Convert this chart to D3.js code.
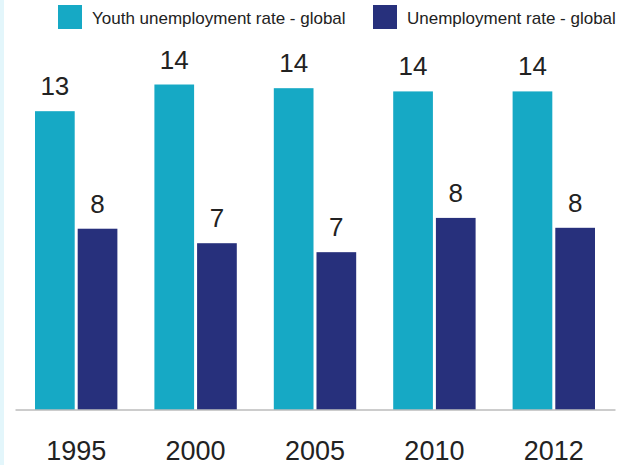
<!DOCTYPE html>
<html>
<head>
<meta charset="utf-8">
<script src="https://cdn.jsdelivr.net/npm/d3@7"></script>
<style>
  html, body { margin: 0; padding: 0; background: #fff; }
  svg { display: block; }
  text { font-family: "Liberation Sans", Arial, sans-serif; }
</style>
</head>
<body>
<div id="chart"></div>
<script>
const years = ["1995", "2000", "2005", "2010", "2012"];
const seriesNames = ["Youth unemployment rate - global", "Unemployment rate - global"];
const youthRate = [12.97, 14.13, 13.97, 13.83, 13.83];
const totalRate = [7.86, 7.23, 6.84, 8.33, 7.9];
const seriesColors = ["#16a9c5", "#27307c"];

const width = 623;
const height = 465;
const baseY = 409.5;

const svg = d3.select("div#chart")
  .append("svg")
  .attr("width", width)
  .attr("height", height);

// faint tinted left edge seen in the picture
svg.append("rect")
  .attr("x", 0).attr("y", 0)
  .attr("width", 4).attr("height", height)
  .attr("fill", "#e3f6fb");

const x0 = d3.scaleBand()
  .domain(years)
  .range([15, 615])
  .paddingInner(0.31)
  .paddingOuter(0.1675);

const x1 = d3.scaleBand()
  .domain(seriesNames)
  .range([0, x0.bandwidth()])
  .paddingInner(0.07);

const y = d3.scaleLinear()
  .domain([0, 15])
  .range([baseY, baseY - 345]);

const rows = years.map((yr, i) => ({
  year: yr,
  values: [
    { name: seriesNames[0], value: youthRate[i], color: seriesColors[0] },
    { name: seriesNames[1], value: totalRate[i], color: seriesColors[1] }
  ]
}));

const groups = svg.append("g")
  .selectAll("g.group")
  .data(rows)
  .enter()
  .append("g")
  .attr("class", "group")
  .attr("transform", d => `translate(${x0(d.year)},0)`);

groups.selectAll("rect")
  .data(d => d.values)
  .enter()
  .append("rect")
  .attr("x", d => x1(d.name))
  .attr("y", d => y(d.value))
  .attr("width", x1.bandwidth())
  .attr("height", d => baseY - y(d.value))
  .attr("fill", d => d.color);

groups.selectAll("text.value")
  .data(d => d.values)
  .enter()
  .append("text")
  .attr("class", "value")
  .attr("x", d => x1(d.name) + x1.bandwidth() / 2)
  .attr("y", d => y(d.value) - 16)
  .attr("text-anchor", "middle")
  .attr("font-size", "26px")
  .attr("fill", "#222")
  .text(d => Math.round(d.value));

const axis = svg.append("g")
  .attr("transform", `translate(0,${baseY})`)
  .call(d3.axisBottom(x0).tickSize(0).tickSizeOuter(0).tickPadding(31));

axis.select(".domain").attr("stroke", "#9a9a9a").attr("stroke-width", 1);
axis.selectAll("text")
  .attr("font-size", "27px")
  .attr("font-family", "'Liberation Sans', Arial, sans-serif")
  .attr("fill", "#222");

// legend
const legendX = [58, 373];
const legend = svg.append("g")
  .selectAll("g.legend")
  .data(seriesNames)
  .enter()
  .append("g")
  .attr("class", "legend")
  .attr("transform", (d, i) => `translate(${legendX[i]},5)`);

legend.append("rect")
  .attr("width", 24)
  .attr("height", 24)
  .attr("fill", (d, i) => seriesColors[i]);

legend.append("text")
  .attr("x", 34)
  .attr("y", 19)
  .attr("font-size", "17px")
  .attr("fill", "#222")
  .text(d => d);
</script>
</body>
</html>
